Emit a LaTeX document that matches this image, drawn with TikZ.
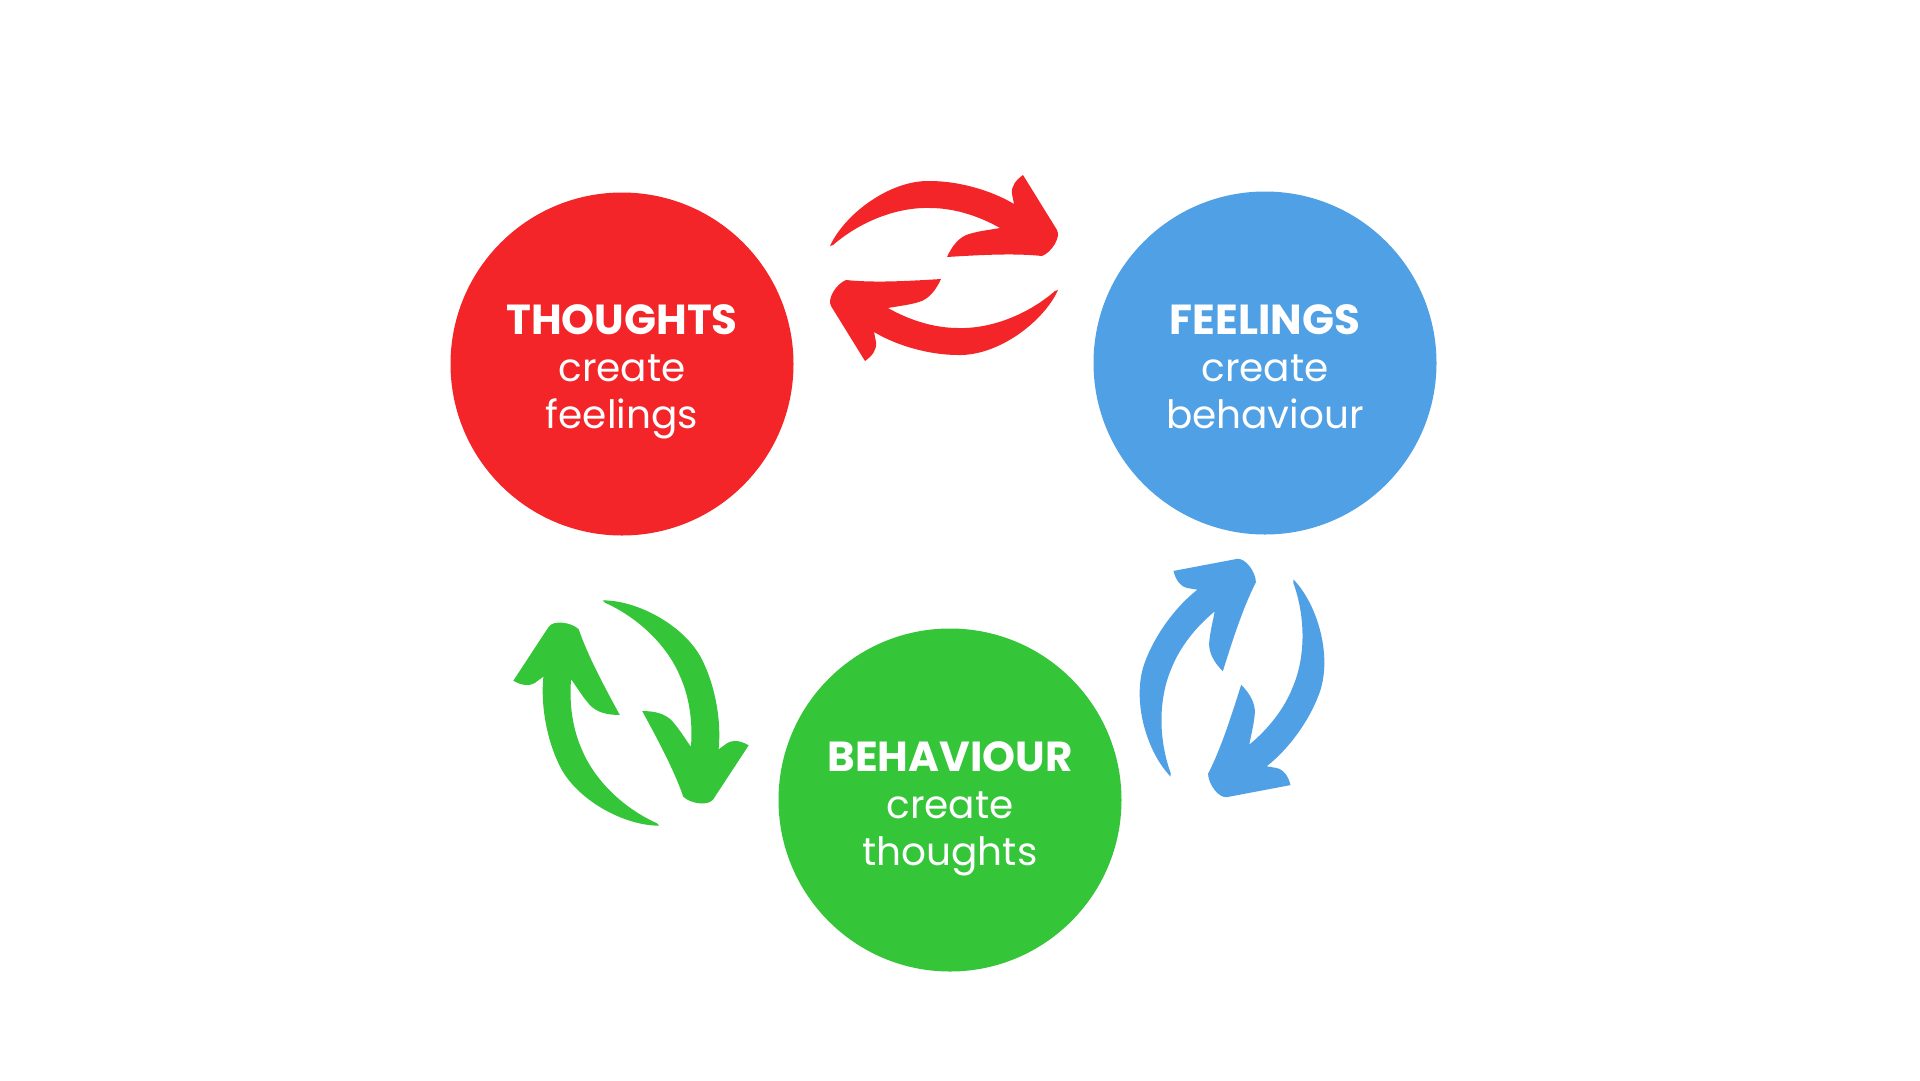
\documentclass[tikz,border=0pt]{standalone}
\usepackage{fontspec}
\setmainfont{Poppins}
\definecolor{thoughtred}{HTML}{F32528}
\definecolor{feelblue}{HTML}{50A0E5}
\definecolor{actgreen}{HTML}{34C538}

\begin{document}
\begin{tikzpicture}[x=1pt, y=-1pt,
    bubble/.style={circle, minimum size=343pt, inner sep=0pt},
    caption/.style={anchor=north, inner sep=0pt, align=center, text=white,
        font=\fontsize{39}{47}\selectfont},
    swap/.pic={
        \foreach \r in {0,180} {
            \fill[rotate=\r] (-114,-22) .. controls (-100,-53) and (-55,-88) .. (-14,-87)
                .. controls (12,-87) and (45,-79) .. (70,-64)
                -- (68,-74) .. controls (67,-82) and (72,-88) .. (79,-93)
                -- (113,-38) .. controls (117,-31) and (108,-16) .. (98,-12)
                .. controls (70,-15) and (35,-13) .. (3,-11)
                .. controls (8,-22) and (15,-31) .. (25,-34)
                .. controls (35,-37) and (45,-38) .. (56,-40)
                .. controls (35,-52) and (10,-60) .. (-14,-60)
                .. controls (-45,-61) and (-82,-48) .. (-111,-23) -- cycle;
        }
    }]
    \fill[white] (0,0) rectangle (1920,1080);
    \useasboundingbox (0,0) rectangle (1920,1080);

    % Circles
    \node[bubble, fill=thoughtred] (thoughts) at (622,364) {};
    \node[bubble, fill=feelblue] (feelings) at (1265,363) {};
    \node[bubble, fill=actgreen] (behaviour) at (950,800) {};

    % Captions
    \node[caption] at ([yshift=60pt]thoughts.center)
        {{\fontsize{42}{47}\selectfont\bfseries THOUGHTS}\\create\\feelings};
    \node[caption] at ([yshift=59pt]feelings.center)
        {{\fontsize{42}{47}\selectfont\bfseries FEELINGS}\\create\\behaviour};
    \node[caption] at ([yshift=59pt]behaviour.center)
        {{\fontsize{42}{47}\selectfont\bfseries BEHAVIOUR}\\create\\thoughts};

    % Arrows
    \pic[fill=thoughtred] at (944,268) {swap};
    \pic[fill=feelblue, rotate=69] at (1232,678) {swap};
    \pic[fill=actgreen, rotate=115] at (631,713) {swap};
\end{tikzpicture}
\end{document}
